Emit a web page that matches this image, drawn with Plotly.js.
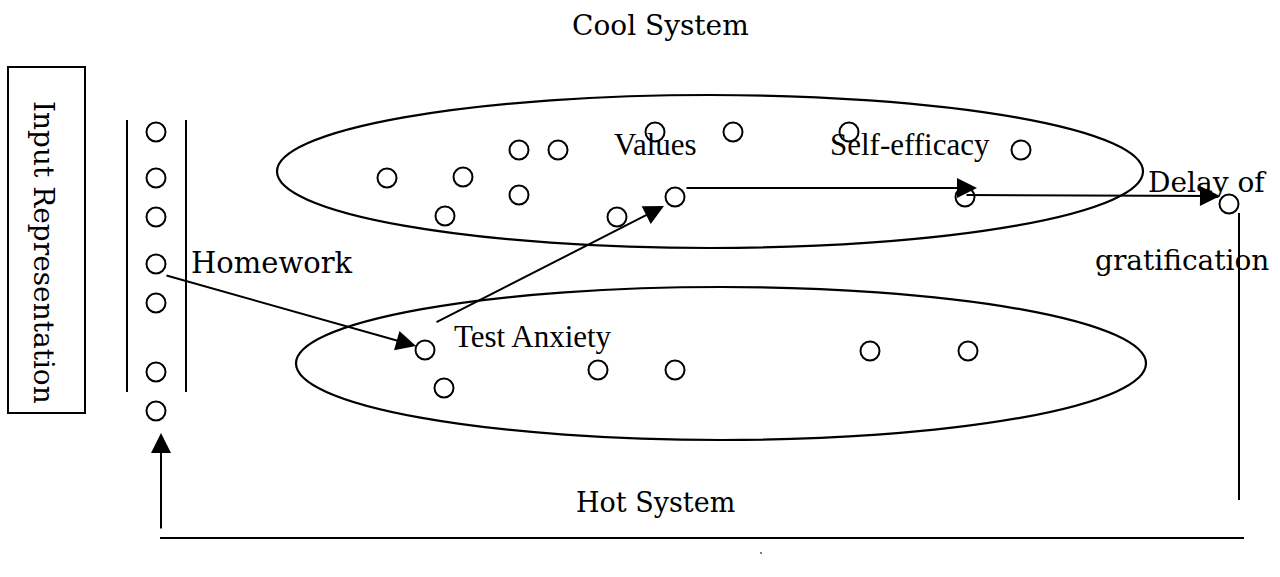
<!DOCTYPE html>
<html>
<head>
<meta charset="utf-8">
<script src="https://cdn.plot.ly/plotly-3.0.1.min.js"></script>
<style>html,body{margin:0;padding:0;background:#fff;}#chart{width:1280px;height:577px;}</style>
</head>
<body>
<div id="chart"></div>
<script>
// Node positions (diagram coordinates, y grows downward)
const inputX = [156, 156, 156, 156, 156, 156, 156];
const inputY = [132, 178, 217, 264, 303, 372, 411];
const coolX = [387, 445, 463, 519, 519, 558, 617, 655, 675, 733, 849, 965, 1021];
const coolY = [178, 216, 177, 150, 195, 150, 217, 132, 197, 132, 132, 197, 150];
const hotX = [425, 444, 598, 675, 870, 968];
const hotY = [350, 388, 370, 370, 351, 351];
const delayX = [1229];
const delayY = [204];

// Labels
const labelText = ["Cool System", "Hot System", "Homework", "Test Anxiety", "Values", "Self-efficacy", "Delay of", "gratification"];
const labelX = [660, 655, 189, 452, 612, 828, 1146, 1093];
const labelBase = [35, 512, 273, 347, 155, 155, 192, 270];
const labelFont = ["DejaVu Serif", "DejaVu Serif", "DejaVu Serif", "Liberation Serif", "Liberation Serif", "Liberation Serif", "DejaVu Serif", "DejaVu Serif"];
const labelSize = [28, 27, 29, 31, 31, 31, 28, 28];
const labelAnchor = ["center", "center", "left", "left", "left", "left", "left", "left"];

// Arrows: tail -> tip
const arrowTailX = [165, 435, 685, 965, 161];
const arrowTailY = [275, 323, 188, 195, 530];
const arrowTipX = [416, 664, 977, 1220, 161];
const arrowTipY = [346, 206, 188, 196, 433];

// Plain lines
const lineX0 = [127, 186, 1239, 160];
const lineY0 = [120, 120, 213, 538];
const lineX1 = [127, 186, 1239, 1244];
const lineY1 = [392, 392, 500, 538];

// Ellipses [x0, x1, y0, y1]
const ellipseX0 = [277, 296];
const ellipseX1 = [1143, 1146];
const ellipseY0 = [95, 287];
const ellipseY1 = [248, 440];

const marker = {symbol: 'circle-open', size: 19, color: '#000', line: {width: 2, color: '#000'}};
const traces = [
  {x: inputX, y: inputY, mode: 'markers', marker: marker, hoverinfo: 'skip'},
  {x: coolX, y: coolY, mode: 'markers', marker: marker, hoverinfo: 'skip'},
  {x: hotX, y: hotY, mode: 'markers', marker: marker, hoverinfo: 'skip'},
  {x: delayX, y: delayY, mode: 'markers', marker: marker, hoverinfo: 'skip'}
];

const shapes = [];
for (let i = 0; i < ellipseX0.length; i++) {
  shapes.push({type: 'circle', xref: 'x', yref: 'y', x0: ellipseX0[i], x1: ellipseX1[i], y0: ellipseY0[i], y1: ellipseY1[i], line: {color: '#000', width: 2.2}, layer: 'below'});
}
for (let i = 0; i < lineX0.length; i++) {
  shapes.push({type: 'line', xref: 'x', yref: 'y', x0: lineX0[i], y0: lineY0[i], x1: lineX1[i], y1: lineY1[i], line: {color: '#000', width: 2}});
}
// Input Representation box
shapes.push({type: 'rect', xref: 'x', yref: 'y', x0: 8, x1: 85, y0: 67, y1: 413, line: {color: '#000', width: 2}});
// small scan dot
shapes.push({type: 'circle', xref: 'x', yref: 'y', x0: 760, x1: 762, y0: 552, y1: 554, fillcolor: '#555', line: {width: 0}});

const annotations = [];
for (let i = 0; i < labelText.length; i++) {
  annotations.push({
    x: labelX[i], y: labelBase[i] - 0.34 * labelSize[i], xref: 'x', yref: 'y',
    text: labelText[i], showarrow: false, xanchor: labelAnchor[i], yanchor: 'middle',
    font: {family: labelFont[i], size: labelSize[i], color: '#000'}
  });
}
annotations.push({
  x: 44, y: 252, xref: 'x', yref: 'y', text: 'Input Representation', showarrow: false,
  textangle: 90, xanchor: 'center', yanchor: 'middle',
  font: {family: 'DejaVu Serif', size: 28, color: '#000'}
});
for (let i = 0; i < arrowTailX.length; i++) {
  annotations.push({
    x: arrowTipX[i], y: arrowTipY[i], xref: 'x', yref: 'y',
    ax: arrowTailX[i], ay: arrowTailY[i], axref: 'x', ayref: 'y',
    text: '', showarrow: true, arrowhead: 2, arrowsize: 2, arrowwidth: 2, arrowcolor: '#000'
  });
}

const layout = {
  width: 1280, height: 577,
  margin: {l: 0, r: 0, t: 0, b: 0, pad: 0},
  paper_bgcolor: '#fff', plot_bgcolor: '#fff',
  showlegend: false,
  xaxis: {range: [0, 1280], visible: false, fixedrange: true},
  yaxis: {range: [577, 0], visible: false, fixedrange: true},
  shapes: shapes,
  annotations: annotations
};

Plotly.newPlot('chart', traces, layout, {staticPlot: true, displayModeBar: false});
</script>
</body>
</html>
